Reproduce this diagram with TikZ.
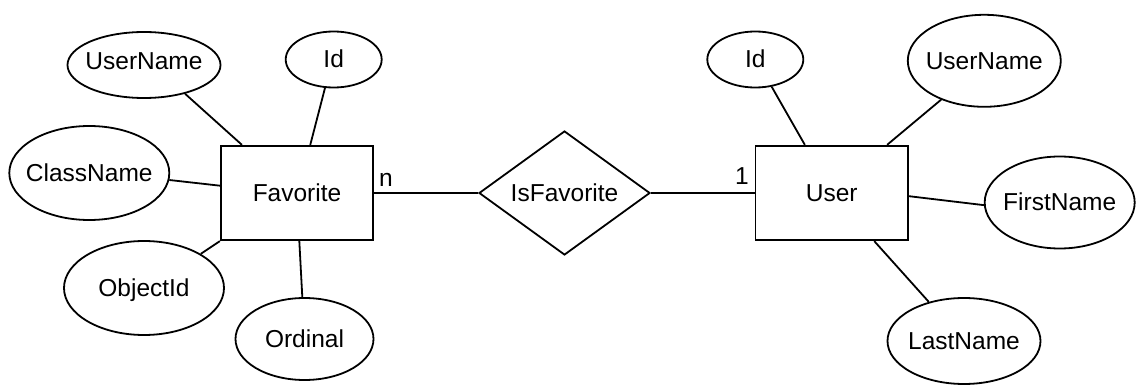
\documentclass[tikz,border=0pt]{standalone}
\usepackage{fontspec}
\setmainfont{Liberation Sans}
\usetikzlibrary{shapes.geometric,calc}
\newcommand\attrtxt[1]{\makebox[0pt]{#1}}
\begin{document}
\begin{tikzpicture}[x=1pt,y=-1pt,
  lw/.style={line width=1.8pt},
  txt/.style={font=\fontsize{24.5}{29}\selectfont},
  attr/.style={draw, ellipse, lw, txt, inner sep=0pt, text height=17pt, text depth=0pt},
  ent/.style={draw, rectangle, lw, txt, inner sep=0pt, minimum width=152.5pt, minimum height=94.5pt, text height=17pt, text depth=0pt},
  rel/.style={draw, diamond, lw, txt, inner sep=0pt, minimum width=171pt, minimum height=124pt, text height=17pt, text depth=0pt},
  lbl/.style={txt, inner sep=0pt}]
\useasboundingbox (0,0) rectangle (1136,385);

% entities and relationship
\node[ent] (fav) at (297,193) {Favorite};
\node[ent] (usr) at (831.7,193) {User};
\node[rel] (isf) at (564.5,193) {\attrtxt{IsFavorite}};

% Favorite attributes
\node[attr, minimum width=153pt, minimum height=66pt] (fun) at (144,65) {\attrtxt{\raisebox{4pt}{UserName}}};
\node[attr, minimum width=96pt, minimum height=56pt] (fid) at (333.7,59.5) {\attrtxt{Id}};
\node[attr, minimum width=160pt, minimum height=94pt] (fcn) at (89.3,173) {\attrtxt{ClassName}};
\node[attr, minimum width=160pt, minimum height=94pt] (foi) at (144,288) {\attrtxt{ObjectId}};
\node[attr, minimum width=138pt, minimum height=82pt] (ford) at (304.5,339) {\attrtxt{Ordinal}};

% User attributes
\node[attr, minimum width=96pt, minimum height=56pt] (uid) at (755.3,59.5) {\attrtxt{Id}};
\node[attr, minimum width=153pt, minimum height=92pt] (uun) at (984.3,60.8) {\attrtxt{UserName}};
\node[attr, minimum width=150pt, minimum height=92pt] (ufn) at (1059.7,202.5) {\attrtxt{FirstName}};
\node[attr, minimum width=153pt, minimum height=86pt] (uln) at (964,341) {\attrtxt{LastName}};

% cardinality labels
\node[lbl, anchor=base west] (nlab) at (379,187) {n};
\node[lbl, anchor=base east] (onelab) at (749,185) {1};

% relationship lines
\draw[lw] (fav.east) -- (isf.west);
\draw[lw] (isf.east) -- (usr.west);

% attribute connectors (Favorite)
\draw[lw] (fun.-35.7) -- ($(fav.north west)!0.143!(fav.north east)$);
\draw[lw] (fid.-107.4) -- ($(fav.north west)!0.586!(fav.north east)$);
\draw[lw] (fcn.-5.7) -- ($(fav.north west)!0.424!(fav.south west)$);
\draw[lw] (foi.31.3) -- (fav.south west);
\draw[lw] (ford.93) -- ($(fav.south west)!0.515!(fav.south east)$);

% attribute connectors (User)
\draw[lw] (uid.-59.5) -- ($(usr.north west)!0.326!(usr.north east)$);
\draw[lw] (uun.-138.9) -- ($(usr.north west)!0.859!(usr.north east)$);
\draw[lw] (ufn.182.4) -- ($(usr.north east)!0.533!(usr.south east)$);
\draw[lw] (uln.132.2) -- ($(usr.south west)!0.776!(usr.south east)$);
\end{tikzpicture}
\end{document}
